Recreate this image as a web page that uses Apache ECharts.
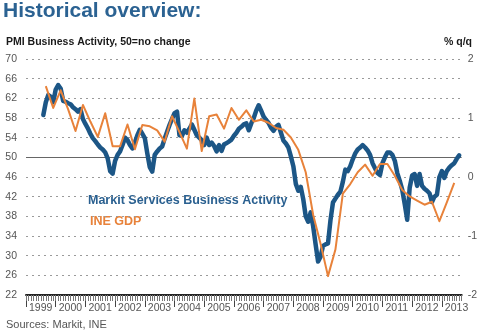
<!DOCTYPE html>
<html>
<head>
<meta charset="utf-8">
<script src="https://cdn.jsdelivr.net/npm/echarts@6/dist/echarts.min.js"></script>
<style>
  html, body { margin: 0; padding: 0; background: #fff; }
  #chart { width: 480px; height: 333px; }
</style>
</head>
<body>
<div id="chart"></div>
<script>
// Year labels along the time axis (axis runs in months from Jan 1999)
const years = ['1999', '2000', '2001', '2002', '2003', '2004', '2005', '2006',
               '2007', '2008', '2009', '2010', '2011', '2012', '2013'];

// Markit Services PMI Business Activity, monthly, Aug 1999 - Aug 2013
const pmiFirstMonth = 7; // Aug 1999, months after Jan 1999
const pmi1999 = [58.6, 61.2, 62.7, 62.3, 61.2];
const pmi2000 = [63.8, 64.7, 64.0, 61.5, 61.3, 61.0, 60.8, 60.2, 59.8, 59.3, 59.8, 57.8];
const pmi2001 = [56.8, 55.9, 54.8, 53.9, 53.3, 52.6, 52.0, 51.6, 51.0, 49.8, 47.2, 46.7];
const pmi2002 = [49.3, 50.5, 51.2, 52.5, 54.0, 53.5, 52.5, 51.8, 53.0, 54.5, 55.6, 54.8];
const pmi2003 = [53.9, 50.8, 48.0, 47.1, 50.5, 51.2, 51.8, 52.2, 53.8, 55.2, 56.6, 57.8];
const pmi2004 = [59.0, 59.3, 54.5, 54.4, 55.5, 55.0, 55.8, 56.7, 55.6, 54.5, 54.0, 53.5];
const pmi2005 = [52.5, 54.0, 52.5, 53.0, 52.3, 51.2, 52.5, 51.3, 52.6, 52.9, 53.2, 53.6];
const pmi2006 = [54.4, 55.0, 55.8, 56.2, 56.7, 56.9, 55.5, 56.9, 58.0, 59.5, 60.6, 59.5];
const pmi2007 = [58.3, 57.6, 57.0, 56.0, 55.4, 56.2, 56.6, 55.0, 53.4, 52.8, 52.0, 50.2];
const pmi2008 = [48.2, 44.6, 43.2, 44.0, 41.5, 38.0, 36.9, 38.8, 36.0, 32.3, 28.8, 29.8];
const pmi2009 = [32.0, 32.3, 32.5, 37.2, 40.8, 41.6, 42.4, 43.0, 45.0, 47.5, 47.2, 48.2];
const pmi2010 = [49.6, 50.8, 51.6, 52.0, 52.5, 52.0, 51.4, 50.5, 48.8, 47.8, 46.8, 46.4];
const pmi2011 = [48.8, 50.0, 51.0, 51.0, 50.5, 49.3, 46.8, 45.2, 43.4, 40.5, 37.3, 43.8];
const pmi2012 = [46.3, 46.6, 44.2, 46.6, 44.2, 43.6, 43.2, 42.7, 40.9, 42.0, 42.4, 46.0];
const pmi2013 = [47.2, 45.8, 47.2, 47.9, 48.4, 48.8, 49.7, 50.4];

// INE GDP, % q/q, quarterly Q3 1999 - Q2 2013 (plotted at the quarter's last month)
const gdpFirstMonth = 8; // Sep 1999
const gdp1999 = [1.54, 1.17];
const gdp2000 = [1.47, 1.15, 0.78, 1.22];
const gdp2001 = [0.94, 0.68, 1.08, 0.52];
const gdp2002 = [0.52, 0.89, 0.47, 0.88];
const gdp2003 = [0.86, 0.79, 0.60, 1.03];
const gdp2004 = [0.76, 0.48, 1.33, 0.44];
const gdp2005 = [1.03, 1.06, 0.82, 1.17];
const gdp2006 = [0.97, 1.13, 0.94, 0.97];
const gdp2007 = [0.92, 0.83, 0.80, 0.67];
const gdp2008 = [0.46, 0.08, -0.64, -1.13];
const gdp2009 = [-1.68, -1.23, -0.28, -0.12];
const gdp2010 = [0.08, 0.21, 0.02, 0.22];
const gdp2011 = [0.22, 0.02, -0.22, -0.33];
const gdp2012 = [-0.40, -0.47, -0.42, -0.75];
const gdp2013 = [-0.43, -0.10];

const pmiValues = [].concat(pmi1999, pmi2000, pmi2001, pmi2002, pmi2003, pmi2004, pmi2005,
  pmi2006, pmi2007, pmi2008, pmi2009, pmi2010, pmi2011, pmi2012, pmi2013);
const gdpValues = [].concat(gdp1999, gdp2000, gdp2001, gdp2002, gdp2003, gdp2004, gdp2005,
  gdp2006, gdp2007, gdp2008, gdp2009, gdp2010, gdp2011, gdp2012, gdp2013);

const pmiData = pmiValues.map((v, i) => [pmiFirstMonth + i, v]);
const gdpData = gdpValues.map((v, i) => [gdpFirstMonth + 3 * i, v]);

const axisEnd = 176; // end of Aug 2013
const yearTicks = years.map((y, i) => i * 12);
const monthTicks = [];
for (let m = 0; m <= axisEnd; m++) monthTicks.push(m);

const FONT = '"Liberation Sans", Arial, sans-serif';
const BLUE = '#1c5686';
const ORANGE = '#e8823a';

const chart = echarts.init(document.getElementById('chart'), null, { renderer: 'canvas' });

chart.setOption({
  animation: false,
  backgroundColor: '#ffffff',
  textStyle: { fontFamily: FONT },
  grid: { left: 26, right: 18, top: 59, bottom: 38, containLabel: false },
  xAxis: [
    {
      type: 'value', min: 0, max: axisEnd, position: 'bottom',
      axisLine: { show: true, onZero: false, lineStyle: { color: '#222', width: 2 } },
      axisTick: { show: true, length: 12, customValues: yearTicks, lineStyle: { color: '#444', width: 1 } },
      axisLabel: {
        customValues: yearTicks,
        formatter: v => years[Math.round(v / 12)] || '',
        align: 'left', padding: [0, 0, 0, 3], margin: 8,
        color: '#555', fontSize: 10.5, fontFamily: FONT
      },
      splitLine: { show: false }
    },
    {
      type: 'value', min: 0, max: axisEnd, position: 'bottom',
      axisLine: { show: false, onZero: false },
      axisTick: { show: true, length: 6, customValues: monthTicks, lineStyle: { color: '#777', width: 1 } },
      axisLabel: { show: false },
      splitLine: { show: false }
    }
  ],
  yAxis: [
    {
      type: 'value', min: 22, max: 70, interval: 4,
      axisLine: { show: false }, axisTick: { show: false },
      axisLabel: { color: '#555', fontSize: 10.5, margin: 9, fontFamily: FONT },
      splitLine: { show: true, lineStyle: { color: '#9a9a9a', width: 1, type: [2, 4] } }
    },
    {
      type: 'value', min: -2, max: 2, interval: 1, position: 'right',
      axisLine: { show: false }, axisTick: { show: false },
      axisLabel: { color: '#555', fontSize: 10.5, margin: 6, fontFamily: FONT },
      splitLine: { show: false }
    }
  ],
  series: [
    {
      name: 'Markit Services Business Activity',
      type: 'line', xAxisIndex: 0, yAxisIndex: 0,
      data: pmiData, showSymbol: false, z: 3,
      lineStyle: { color: BLUE, width: 4.5, join: 'round', cap: 'round' },
      markLine: {
        silent: true, symbol: 'none', z: 1,
        label: { show: false },
        lineStyle: { color: '#666', width: 1, type: 'solid' },
        data: [{ yAxis: 50 }]
      }
    },
    {
      name: 'INE GDP',
      type: 'line', xAxisIndex: 0, yAxisIndex: 1,
      data: gdpData, showSymbol: false, z: 4,
      lineStyle: { color: ORANGE, width: 2, join: 'round' }
    }
  ],
  graphic: [
    { type: 'text', left: 3, top: 1, style: { text: 'Historical overview:', fill: '#2b6292', font: 'bold 21px ' + FONT } },
    { type: 'text', left: 6, top: 37, style: { text: 'PMI Business Activity, 50=no change', fill: '#1a1a1a', font: 'bold 10.5px ' + FONT } },
    { type: 'text', right: 8, top: 37, style: { text: '% q/q', fill: '#1a1a1a', font: 'bold 10.5px ' + FONT } },
    { type: 'text', left: 88, top: 194, style: { text: 'Markit Services Business Activity', fill: '#2a6090', font: 'bold 12.5px ' + FONT } },
    { type: 'text', left: 90, top: 215, style: { text: 'INE GDP', fill: '#e8823a', font: 'bold 12.5px ' + FONT } },
    { type: 'text', left: 6, top: 319, style: { text: 'Sources: Markit, INE', fill: '#555', font: '11px ' + FONT } }
  ]
});
</script>
</body>
</html>
